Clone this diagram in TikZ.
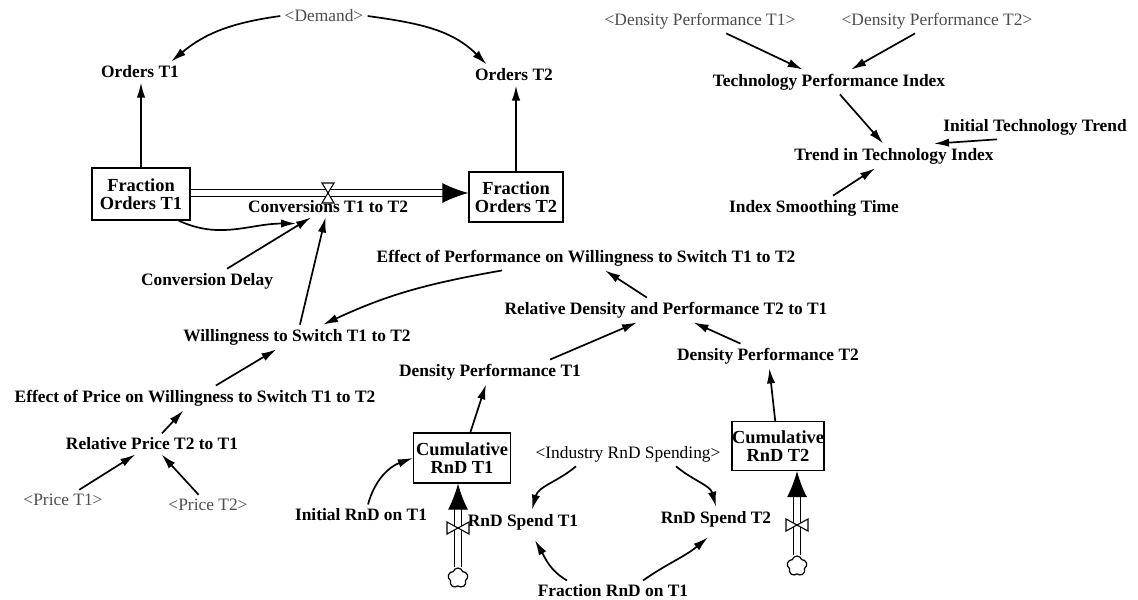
\documentclass[tikz,border=0pt]{standalone}
\usepackage{fontspec}
\setmainfont{Liberation Serif}
\usetikzlibrary{arrows.meta,shapes.symbols}

\begin{document}
\begin{tikzpicture}[x=0.5pt, y=0.5pt,
	var/.style={inner sep=2pt, font=\fontsize{8.7}{9}\selectfont\bfseries},
	shadow/.style={inner sep=2pt, text=black!70, font=\fontsize{8.7}{9}\selectfont},
	stock/.style={draw, rectangle, line width=0.6pt, inner sep=0pt, align=center, 
	font=\fontsize{9.2}{9}\selectfont\bfseries},
	link/.style={-{Latex[length=7.5pt,width=4.2pt]}, line width=0.85pt},
	pipe/.style={double, double distance=2.6pt, line width=0.55pt, -{Latex[length=13pt,width=10pt]}},
	valve/.style={fill=white, line width=0.55pt},
	source/.style={cloud, cloud puffs=5, draw, line width=0.6pt, minimum width=10pt, 
	minimum height=10pt, inner sep=0pt}]
			
			\useasboundingbox (0,0) rectangle (1138,-599);
			
			%Orders of both technologies
			\node (demand) at (324,-16) [shadow]{<Demand>};
			\node (orders1) at (140,-72) [var]{Orders T1};
			\node (orders2) at (514,-75) [var]{Orders T2};
			
			%Stocks of fraction orders
			\node (fraction1) at (141,-194) [stock, minimum width=49pt, minimum height=26pt]{Fraction\\Orders T1};
			\node (fraction2) at (516,-197) [stock, minimum width=47pt, minimum height=25pt]{Fraction\\Orders T2};
			
			%Conversion flow
			\node (conversions) at (328,-207) [var]{Conversions T1 to T2};
			\coordinate (convValve) at (328,-193);
			\node (conversionDelay) at (207,-281) [var]{Conversion Delay};
			
			%Willingness to switch
			\node (willingness) at (297,-337) [var]{Willingness to Switch T1 to T2};
			\node (effectPerformance) at (586,-258) [var]{Effect of Performance on Willingness to Switch T1 to T2};
			\node (relDensity) at (666,-310) [var]{Relative Density and Performance T2 to T1};
			\node (densityPerf1) at (490,-372) [var]{Density Performance T1};
			\node (densityPerf2) at (768,-356) [var]{Density Performance T2};
			
			%Price effect
			\node (effectPrice) at (195,-398) [var]{Effect of Price on Willingness to Switch T1 to T2};
			\node (relPrice) at (152,-444) [var]{Relative Price T2 to T1};
			\node (price1) at (63,-500) [shadow]{<Price T1>};
			\node (price2) at (208,-505) [shadow]{<Price T2>};
			
			%RnD stocks and flows
			\node (cumRnD1) at (462,-458) [stock, minimum width=48.5pt, minimum height=25pt]{Cumulative\\RnD T1};
			\node (cumRnD2) at (778,-446) [stock, minimum width=44.5pt, minimum height=24.5pt]{Cumulative\\RnD T2};
			\node (industry) at (628,-454) [inner sep=2pt, font=\fontsize{8.7}{9}\selectfont]{<Industry RnD Spending>};
			\node (initRnD) at (361,-515) [var]{Initial RnD on T1};
			\node (spend1) at (523,-522) [var]{RnD Spend T1};
			\node (spend2) at (716,-519) [var]{RnD Spend T2};
			\node (fracRnD) at (613,-591) [var]{Fraction RnD on T1};
			\node (cloud1) at (458,-578) [source]{};
			\node (cloud2) at (797,-566) [source]{};
			\coordinate (valve1) at (458,-528);
			\coordinate (valve2) at (797,-525);
			
			%Technology index
			\node (densityT1) at (700,-21) [shadow]{<Density Performance T1>};
			\node (densityT2) at (937,-21) [shadow]{<Density Performance T2>};
			\node (techIndex) at (829,-82) [var]{Technology Performance Index};
			\node (initTrend) at (1035,-127) [var]{Initial Technology Trend};
			\node (trendIndex) at (894,-156) [var]{Trend in Technology Index};
			\node (smoothing) at (814,-208) [var]{Index Smoothing Time};
			
			%Links among orders
			\draw[link] (demand.west) to[out=188,in=40] ([xshift=-6pt]orders1.north east);
			\draw[link] (demand.east) to[out=-8,in=135] ([xshift=8pt]orders2.north west);
			\draw[link] (fraction1.north) -- (fraction1.north |- orders1.south);
			\draw[link] (fraction2.north) -- (fraction2.north |- orders2.south);
			
			%Pipe and valve of the conversion flow
			\draw[pipe] (fraction1.east |- convValve) -- (fraction2.west |- convValve);
			\draw[valve] (convValve) ++(-6,10) -- ++(12,0) -- ++(-12,-20) -- ++(12,0) -- cycle;
			\draw[link] ([xshift=-6pt]fraction1.south east) to[out=-25,in=180] ([xshift=-16pt,yshift=-3pt]conversions.south);
			\draw[link] (conversionDelay) -- (conversions);
			\draw[link] (willingness) -- (conversions);
			
			%Links into willingness
			\draw[link] ([xshift=-42pt]effectPerformance.south) to[out=190,in=25] ([xshift=13pt]willingness.north);
			\draw[link] (effectPrice) -- (willingness);
			\draw[link] (relPrice) -- (effectPrice);
			\draw[link] (price1) -- (relPrice);
			\draw[link] (price2) -- (relPrice);
			\draw[link] (relDensity) -- (effectPerformance);
			\draw[link] ([xshift=30pt]densityPerf1.north) -- (relDensity);
			\draw[link] (densityPerf2) -- (relDensity);
			\draw[link] (cumRnD1) -- (densityPerf1);
			\draw[link] (cumRnD2) -- (densityPerf2);
			
			%RnD pipes and valves
			\draw[pipe] (cloud1) -- (cloud1 |- cumRnD1.south);
			\draw[pipe] (cloud2) -- (cloud2 |- cumRnD2.south);
			\draw[valve] (valve1) ++(-11,6) -- ++(0,-12) -- ++(22,12) -- ++(0,-12) -- cycle;
			\draw[valve] (valve2) ++(-11,6) -- ++(0,-12) -- ++(22,12) -- ++(0,-12) -- cycle;
			\draw[link] ([xshift=3.5pt]initRnD.north) to[out=75,in=200] (cumRnD1.west);
			\draw[link] ([xshift=-26pt]industry.south) to[out=220,in=75] ([xshift=4.5pt]spend1.north);
			\draw[link] ([xshift=24pt]industry.south) to[out=-40,in=105] (spend2.north);
			\draw[link] ([xshift=-23pt]fracRnD.north) to[out=150,in=-60] ([xshift=6pt,yshift=-3pt]spend1.south);
			\draw[link] ([xshift=15pt]fracRnD.north) to[out=35,in=-140] ([xshift=-4pt,yshift=-3pt]spend2.south);
			
			%Links of the technology index
			\draw[link] (densityT1) -- (techIndex);
			\draw[link] (densityT2) -- (techIndex);
			\draw[link] (techIndex) -- (trendIndex);
			\draw[link] ([xshift=-19pt]initTrend.south) -- ([xshift=20pt]trendIndex.north);
			\draw[link] (smoothing) -- (trendIndex);
			
\end{tikzpicture}
\end{document}
